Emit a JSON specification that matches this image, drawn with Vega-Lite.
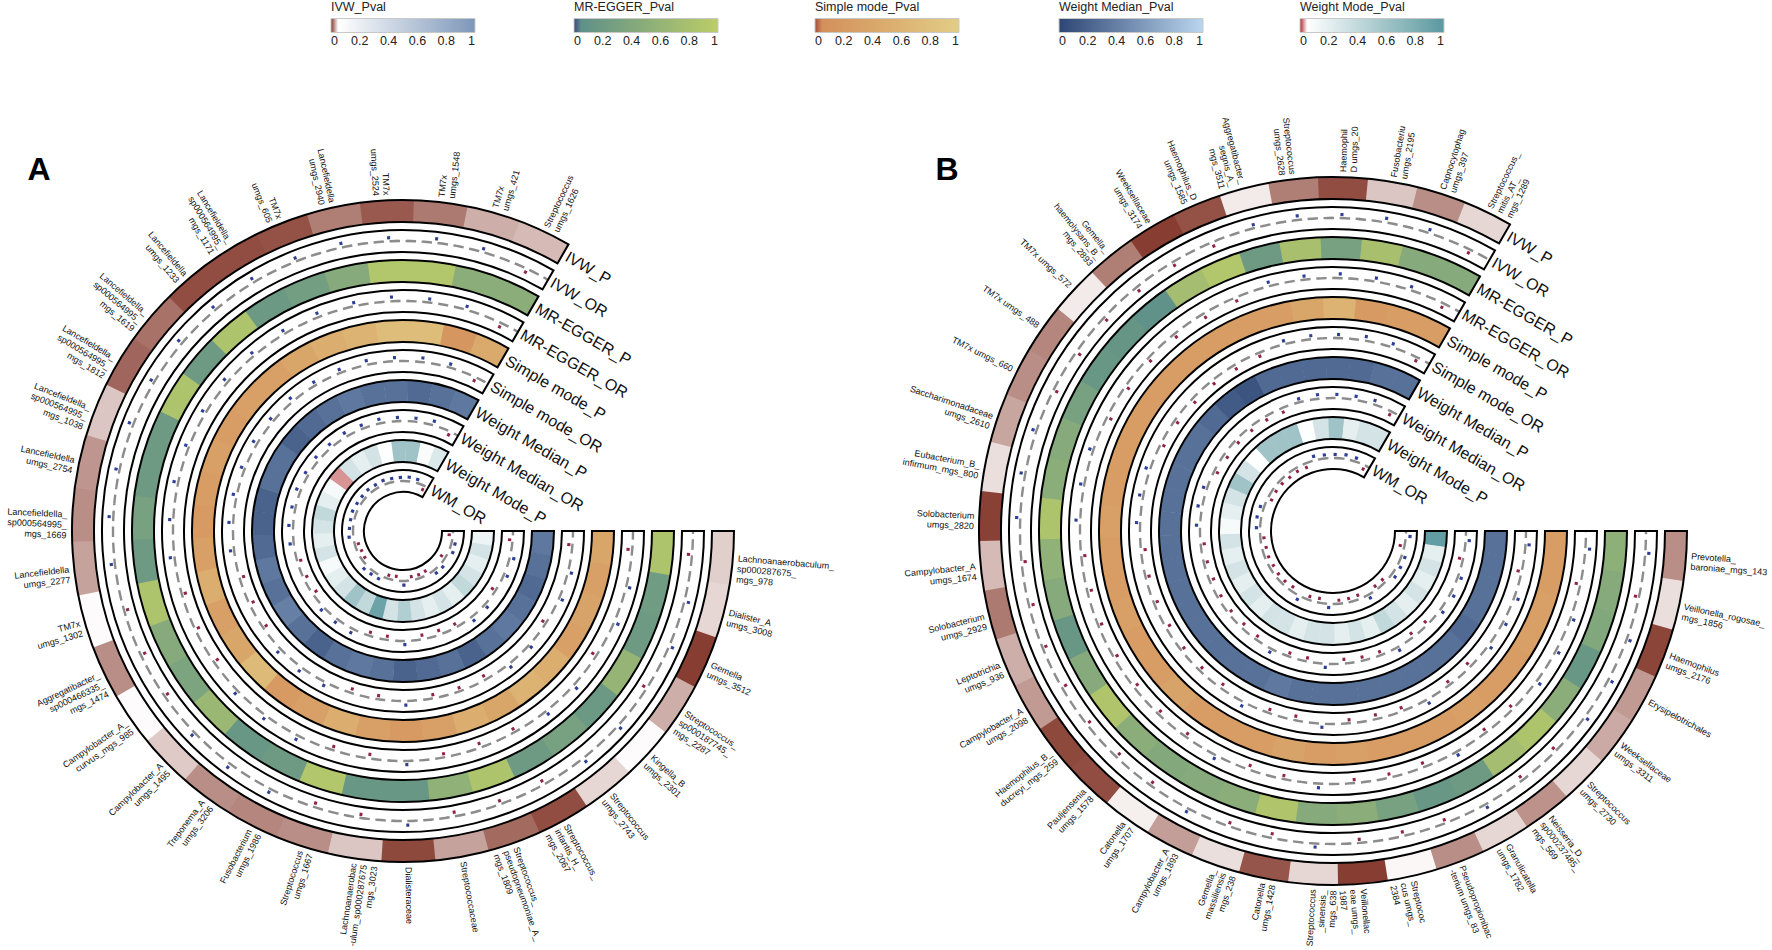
{
"$schema":"https://vega.github.io/schema/vega-lite/v6.json",
"width":1772,"height":950,"autosize":{"type":"none"},"padding":0,"background":"#ffffff",
"config":{"view":{"stroke":null},"font":"Liberation Sans",
 "legend":{"orient":"none","direction":"horizontal","gradientLength":144,"gradientThickness":14,"titleFontWeight":"normal","titleFontSize":12.5,"labelFontSize":12.5,"titleColor":"#222222","labelColor":"#222222","labelOverlap":false,"gradientStrokeColor":"#c8c8c8","gradientStrokeWidth":1,"titlePadding":5,"labelOffset":3,"titleFont":"Liberation Sans","labelFont":"Liberation Sans"}},
"datasets":{
"panels":[{"panel":"A"},{"panel":"B"}],
"tracks":[
{"panel":"A","track":"IVW_P","k":9},{"panel":"A","track":"IVW_OR","k":8},{"panel":"A","track":"MR-EGGER_P","k":7},{"panel":"A","track":"MR-EGGER_OR","k":6},{"panel":"A","track":"Simple mode_P","k":5},{"panel":"A","track":"Simple mode_OR","k":4},{"panel":"A","track":"Weight Median_P","k":3},{"panel":"A","track":"Weight Median_OR","k":2},{"panel":"A","track":"Weight Mode_P","k":1},{"panel":"A","track":"WM_OR","k":0},
{"panel":"B","track":"IVW_P","k":9},{"panel":"B","track":"IVW_OR","k":8},{"panel":"B","track":"MR-EGGER_P","k":7},{"panel":"B","track":"MR-EGGER_OR","k":6},{"panel":"B","track":"Simple mode_P","k":5},{"panel":"B","track":"Simple mode_OR","k":4},{"panel":"B","track":"Weight Median_P","k":3},{"panel":"B","track":"Weight Median_OR","k":2},{"panel":"B","track":"Weight Mode_P","k":1},{"panel":"B","track":"WM_OR","k":0}],
"A":[
{"panel":"A","i":0,"t":"Lachnoanaerobaculum_\nsp000287675_\nmgs_978","ivw_p":0.038,"egger_p":0.85,"simple_p":0.4,"wmed_p":0.35,"wmode_p":0.15,"ivw_or":0.94,"egger_or":0.93,"simple_or":0.94,"wmed_or":0.95,"wmode_or":0.94},
{"panel":"A","i":1,"t":"Dialister_A\numgs_3008","ivw_p":0.04,"egger_p":0.22,"simple_p":0.3,"wmed_p":0.3,"wmode_p":0.3,"ivw_or":1.07,"egger_or":1.06,"simple_or":1.06,"wmed_or":1.07,"wmode_or":1.06},
{"panel":"A","i":2,"t":"Gemella\numgs_3512","ivw_p":0.002,"egger_p":0.2,"simple_p":0.35,"wmed_p":0.25,"wmode_p":0.2,"ivw_or":1.06,"egger_or":1.07,"simple_or":1.06,"wmed_or":1.06,"wmode_or":1.07},
{"panel":"A","i":3,"t":"Streptococcus_\nsp000187745_\nmgs_2287","ivw_p":0.03,"egger_p":0.6,"simple_p":0.3,"wmed_p":0.3,"wmode_p":0.3,"ivw_or":0.94,"egger_or":0.93,"simple_or":0.94,"wmed_or":0.94,"wmode_or":0.93},
{"panel":"A","i":4,"t":"Kingella_B\numgs_2301","ivw_p":0.049,"egger_p":0.18,"simple_p":0.5,"wmed_p":0.35,"wmode_p":0.4,"ivw_or":1.06,"egger_or":1.07,"simple_or":1.05,"wmed_or":1.06,"wmode_or":1.06},
{"panel":"A","i":5,"t":"Streptococcus\numgs_2743","ivw_p":0.04,"egger_p":0.3,"simple_p":0.6,"wmed_p":0.3,"wmode_p":0.2,"ivw_or":1.07,"egger_or":1.06,"simple_or":1.06,"wmed_or":1.07,"wmode_or":1.06},
{"panel":"A","i":6,"t":"Streptococcus_\ninfantis_H_\nmgs_2067","ivw_p":0.006,"egger_p":0.2,"simple_p":0.4,"wmed_p":0.2,"wmode_p":0.3,"ivw_or":0.93,"egger_or":0.94,"simple_or":0.93,"wmed_or":0.94,"wmode_or":0.93},
{"panel":"A","i":7,"t":"Streptococcus_\npseudopneumoniae_A_\nmgs_1809","ivw_p":0.013,"egger_p":0.85,"simple_p":0.5,"wmed_p":0.3,"wmode_p":0.2,"ivw_or":0.94,"egger_or":0.93,"simple_or":0.94,"wmed_or":0.93,"wmode_or":0.94},
{"panel":"A","i":8,"t":"Streptococcaceae","ivw_p":0.027,"egger_p":0.55,"simple_p":0.3,"wmed_p":0.25,"wmode_p":0.3,"ivw_or":0.93,"egger_or":0.94,"simple_or":0.94,"wmed_or":0.93,"wmode_or":0.94},
{"panel":"A","i":9,"t":"Dialisteraceae","ivw_p":0.005,"egger_p":0.15,"simple_p":0.2,"wmed_p":0.2,"wmode_p":0.5,"ivw_or":1.07,"egger_or":1.06,"simple_or":1.07,"wmed_or":1.06,"wmode_or":1.07},
{"panel":"A","i":10,"t":"Lachnoanaerobac\n-ulum_sp000287675\nmgs_3023","ivw_p":0.036,"egger_p":0.15,"simple_p":0.3,"wmed_p":0.3,"wmode_p":0.3,"ivw_or":0.94,"egger_or":0.93,"simple_or":0.94,"wmed_or":0.94,"wmode_or":0.93},
{"panel":"A","i":11,"t":"Streptococcus\numgs_1667","ivw_p":0.022,"egger_p":0.9,"simple_p":0.5,"wmed_p":0.35,"wmode_p":0.9,"ivw_or":0.93,"egger_or":0.94,"simple_or":0.93,"wmed_or":0.94,"wmode_or":0.94},
{"panel":"A","i":12,"t":"Fusobacterium\numgs_1986","ivw_p":0.02,"egger_p":0.2,"simple_p":0.3,"wmed_p":0.3,"wmode_p":0.4,"ivw_or":1.06,"egger_or":1.07,"simple_or":1.06,"wmed_or":1.07,"wmode_or":1.06},
{"panel":"A","i":13,"t":"Treponema_A\numgs_3206","ivw_p":0.022,"egger_p":0.15,"simple_p":0.2,"wmed_p":0.2,"wmode_p":0.6,"ivw_or":1.07,"egger_or":1.06,"simple_or":1.07,"wmed_or":1.06,"wmode_or":1.06},
{"panel":"A","i":14,"t":"Campylobacter_A\numgs_1495","ivw_p":0.037,"egger_p":0.65,"simple_p":0.7,"wmed_p":0.3,"wmode_p":0.3,"ivw_or":1.06,"egger_or":1.06,"simple_or":1.07,"wmed_or":1.06,"wmode_or":1.07},
{"panel":"A","i":15,"t":"Campylobacter_A_\ncurvus_mgs_985","ivw_p":0.049,"egger_p":0.35,"simple_p":0.4,"wmed_p":0.4,"wmode_p":0.2,"ivw_or":0.94,"egger_or":0.93,"simple_or":0.94,"wmed_or":0.93,"wmode_or":0.94},
{"panel":"A","i":16,"t":"Aggregatibacter_\nsp000466335_\nmgs_1474","ivw_p":0.022,"egger_p":0.45,"simple_p":0.3,"wmed_p":0.3,"wmode_p":0.1,"ivw_or":0.93,"egger_or":0.94,"simple_or":0.93,"wmed_or":0.94,"wmode_or":0.93},
{"panel":"A","i":17,"t":"TM7x\numgs_1302","ivw_p":0.049,"egger_p":0.85,"simple_p":0.5,"wmed_p":0.35,"wmode_p":0.3,"ivw_or":0.94,"egger_or":0.94,"simple_or":0.93,"wmed_or":0.94,"wmode_or":0.94},
{"panel":"A","i":18,"t":"Lancefieldella\numgs_2277","ivw_p":0.027,"egger_p":0.2,"simple_p":0.3,"wmed_p":0.25,"wmode_p":0.2,"ivw_or":1.06,"egger_or":1.07,"simple_or":1.06,"wmed_or":1.06,"wmode_or":1.07},
{"panel":"A","i":19,"t":"Lancefieldella_\nsp000564995_\nmgs_1669","ivw_p":0.022,"egger_p":0.3,"simple_p":0.2,"wmed_p":0.2,"wmode_p":0.3,"ivw_or":1.07,"egger_or":1.06,"simple_or":1.07,"wmed_or":1.07,"wmode_or":1.06},
{"panel":"A","i":20,"t":"Lancefieldella\numgs_2754","ivw_p":0.024,"egger_p":0.2,"simple_p":0.25,"wmed_p":0.2,"wmode_p":0.4,"ivw_or":1.06,"egger_or":1.07,"simple_or":1.06,"wmed_or":1.06,"wmode_or":1.06},
{"panel":"A","i":21,"t":"Lancefieldella_\nsp000564995_\nmgs_1038","ivw_p":0.036,"egger_p":0.2,"simple_p":0.3,"wmed_p":0.3,"wmode_p":0.2,"ivw_or":1.07,"egger_or":1.06,"simple_or":1.06,"wmed_or":1.07,"wmode_or":1.07},
{"panel":"A","i":22,"t":"Lancefieldella_\nsp000564995_\nmgs_1812","ivw_p":0.012,"egger_p":0.85,"simple_p":0.25,"wmed_p":0.3,"wmode_p":0.1,"ivw_or":1.06,"egger_or":1.06,"simple_or":1.07,"wmed_or":1.06,"wmode_or":1.06},
{"panel":"A","i":23,"t":"Lancefieldella_\nsp000564995_\nmgs_1619","ivw_p":0.015,"egger_p":0.2,"simple_p":0.3,"wmed_p":0.2,"wmode_p":0.025,"ivw_or":1.07,"egger_or":1.07,"simple_or":1.06,"wmed_or":1.07,"wmode_or":1.06},
{"panel":"A","i":24,"t":"Lancefieldella\numgs_1233","ivw_p":0.006,"egger_p":0.85,"simple_p":0.3,"wmed_p":0.25,"wmode_p":0.3,"ivw_or":1.06,"egger_or":1.06,"simple_or":1.07,"wmed_or":1.06,"wmode_or":1.07},
{"panel":"A","i":25,"t":"Lancefieldella_\nsp000564995_\nmgs_1171","ivw_p":0.006,"egger_p":0.18,"simple_p":0.4,"wmed_p":0.3,"wmode_p":0.2,"ivw_or":1.07,"egger_or":1.06,"simple_or":1.06,"wmed_or":1.07,"wmode_or":1.06},
{"panel":"A","i":26,"t":"TM7x\numgs_605","ivw_p":0.007,"egger_p":0.25,"simple_p":0.5,"wmed_p":0.35,"wmode_p":0.3,"ivw_or":1.06,"egger_or":1.07,"simple_or":1.06,"wmed_or":1.06,"wmode_or":1.07},
{"panel":"A","i":27,"t":"Lancefieldella\numgs_2940","ivw_p":0.018,"egger_p":0.45,"simple_p":0.6,"wmed_p":0.3,"wmode_p":0.06,"ivw_or":1.07,"egger_or":1.06,"simple_or":1.07,"wmed_or":1.07,"wmode_or":1.06},
{"panel":"A","i":28,"t":"TM7x\numgs_2524","ivw_p":0.009,"egger_p":0.9,"simple_p":0.75,"wmed_p":0.3,"wmode_p":0.6,"ivw_or":1.06,"egger_or":1.07,"simple_or":1.06,"wmed_or":1.06,"wmode_or":1.06},
{"panel":"A","i":29,"t":"TM7x\numgs_1548","ivw_p":0.017,"egger_p":0.9,"simple_p":0.75,"wmed_p":0.25,"wmode_p":0.6,"ivw_or":1.07,"egger_or":1.06,"simple_or":1.07,"wmed_or":1.06,"wmode_or":1.07},
{"panel":"A","i":30,"t":"TM7x\numgs_421","ivw_p":0.03,"egger_p":0.5,"simple_p":0.15,"wmed_p":0.3,"wmode_p":0.08,"ivw_or":1.06,"egger_or":1.06,"simple_or":1.06,"wmed_or":1.07,"wmode_or":1.06},
{"panel":"A","i":31,"t":"Streptococcus\numgs_1626","ivw_p":0.033,"egger_p":0.5,"simple_p":0.45,"wmed_p":0.35,"wmode_p":0.25,"ivw_or":0.94,"egger_or":0.93,"simple_or":0.94,"wmed_or":0.94,"wmode_or":0.93}],
"B":[
{"panel":"B","i":0,"t":"Prevotella_\nbaroniae_mgs_143","ivw_p":0.022,"egger_p":0.52,"simple_p":0.25,"wmed_p":0.3,"wmode_p":0.95,"ivw_or":1.06,"egger_or":1.07,"simple_or":1.06,"wmed_or":1.06,"wmode_or":1.07},
{"panel":"B","i":1,"t":"Veillonella_rogosae_\nmgs_1856","ivw_p":0.042,"egger_p":0.45,"simple_p":0.25,"wmed_p":0.3,"wmode_p":0.2,"ivw_or":0.94,"egger_or":0.93,"simple_or":0.94,"wmed_or":0.94,"wmode_or":0.93},
{"panel":"B","i":2,"t":"Haemophilus\numgs_2176","ivw_p":0.004,"egger_p":0.4,"simple_p":0.3,"wmed_p":0.3,"wmode_p":0.3,"ivw_or":1.06,"egger_or":1.06,"simple_or":1.07,"wmed_or":1.06,"wmode_or":1.06},
{"panel":"B","i":3,"t":"Erysipelotrichales","ivw_p":0.025,"egger_p":0.15,"simple_p":0.3,"wmed_p":0.3,"wmode_p":0.2,"ivw_or":1.07,"egger_or":1.06,"simple_or":1.06,"wmed_or":1.07,"wmode_or":1.06},
{"panel":"B","i":4,"t":"Weeksellaceae\numgs_3311","ivw_p":0.029,"egger_p":0.5,"simple_p":0.25,"wmed_p":0.25,"wmode_p":0.3,"ivw_or":1.06,"egger_or":1.07,"simple_or":1.06,"wmed_or":1.06,"wmode_or":1.07},
{"panel":"B","i":5,"t":"Streptococcus\numgs_2730","ivw_p":0.04,"egger_p":0.85,"simple_p":0.25,"wmed_p":0.3,"wmode_p":0.2,"ivw_or":0.94,"egger_or":0.94,"simple_or":0.93,"wmed_or":0.94,"wmode_or":0.94},
{"panel":"B","i":6,"t":"Neisseria_D_\nsp000237485_\nmgs_569","ivw_p":0.023,"egger_p":0.75,"simple_p":0.3,"wmed_p":0.3,"wmode_p":0.3,"ivw_or":0.93,"egger_or":0.94,"simple_or":0.94,"wmed_or":0.93,"wmode_or":0.94},
{"panel":"B","i":7,"t":"Granulicatella\numgs_1782","ivw_p":0.04,"egger_p":0.2,"simple_p":0.25,"wmed_p":0.3,"wmode_p":0.4,"ivw_or":1.06,"egger_or":1.06,"simple_or":1.07,"wmed_or":1.06,"wmode_or":1.06},
{"panel":"B","i":8,"t":"Pseudopropionibac\n-terium umgs_83","ivw_p":0.022,"egger_p":0.15,"simple_p":0.25,"wmed_p":0.3,"wmode_p":0.2,"ivw_or":0.94,"egger_or":0.93,"simple_or":0.94,"wmed_or":0.94,"wmode_or":0.93},
{"panel":"B","i":9,"t":"Streptococ\ncus umgs_\n2384","ivw_p":0.048,"egger_p":0.3,"simple_p":0.25,"wmed_p":0.3,"wmode_p":0.3,"ivw_or":0.93,"egger_or":0.94,"simple_or":0.93,"wmed_or":0.94,"wmode_or":0.94},
{"panel":"B","i":10,"t":"Veillonellac\neae umgs_\n1987","ivw_p":0.002,"egger_p":0.5,"simple_p":0.3,"wmed_p":0.3,"wmode_p":0.2,"ivw_or":0.94,"egger_or":0.94,"simple_or":0.94,"wmed_or":0.93,"wmode_or":0.94},
{"panel":"B","i":11,"t":"Streptococcus\n_sinensis_\nmgs_638","ivw_p":0.04,"egger_p":0.45,"simple_p":0.25,"wmed_p":0.3,"wmode_p":0.3,"ivw_or":1.06,"egger_or":1.07,"simple_or":1.06,"wmed_or":1.06,"wmode_or":1.06},
{"panel":"B","i":12,"t":"Catonella\numgs_1428","ivw_p":0.008,"egger_p":0.88,"simple_p":0.35,"wmed_p":0.3,"wmode_p":0.3,"ivw_or":0.93,"egger_or":0.94,"simple_or":0.93,"wmed_or":0.94,"wmode_or":0.93},
{"panel":"B","i":13,"t":"Gemella_\nmassiliensis\nmgs_238","ivw_p":0.042,"egger_p":0.5,"simple_p":0.25,"wmed_p":0.35,"wmode_p":0.2,"ivw_or":0.94,"egger_or":0.93,"simple_or":0.94,"wmed_or":0.94,"wmode_or":0.94},
{"panel":"B","i":14,"t":"Campylobacter_A\numgs_1893","ivw_p":0.026,"egger_p":0.45,"simple_p":0.25,"wmed_p":0.3,"wmode_p":0.3,"ivw_or":1.06,"egger_or":1.06,"simple_or":1.07,"wmed_or":1.06,"wmode_or":1.07},
{"panel":"B","i":15,"t":"Catonella\numgs_1707","ivw_p":0.046,"egger_p":0.42,"simple_p":0.25,"wmed_p":0.3,"wmode_p":0.3,"ivw_or":0.94,"egger_or":0.94,"simple_or":0.93,"wmed_or":0.94,"wmode_or":0.93},
{"panel":"B","i":16,"t":"Pauljensenia\numgs_1578","ivw_p":0.006,"egger_p":0.5,"simple_p":0.35,"wmed_p":0.3,"wmode_p":0.2,"ivw_or":0.93,"egger_or":0.94,"simple_or":0.94,"wmed_or":0.93,"wmode_or":0.94},
{"panel":"B","i":17,"t":"Haemophilus_B_\nducreyi_mgs_259","ivw_p":0.005,"egger_p":0.88,"simple_p":0.25,"wmed_p":0.3,"wmode_p":0.3,"ivw_or":0.94,"egger_or":0.93,"simple_or":0.94,"wmed_or":0.94,"wmode_or":0.94},
{"panel":"B","i":18,"t":"Campylobacter_A\numgs_2098","ivw_p":0.025,"egger_p":0.45,"simple_p":0.25,"wmed_p":0.3,"wmode_p":0.2,"ivw_or":0.93,"egger_or":0.94,"simple_or":0.93,"wmed_or":0.94,"wmode_or":0.93},
{"panel":"B","i":19,"t":"Leptotrichia\numgs_936","ivw_p":0.03,"egger_p":0.15,"simple_p":0.3,"wmed_p":0.3,"wmode_p":0.3,"ivw_or":0.94,"egger_or":0.94,"simple_or":0.94,"wmed_or":0.93,"wmode_or":0.94},
{"panel":"B","i":20,"t":"Solobacterium\numgs_2929","ivw_p":0.017,"egger_p":0.45,"simple_p":0.25,"wmed_p":0.3,"wmode_p":0.2,"ivw_or":0.93,"egger_or":0.93,"simple_or":0.94,"wmed_or":0.94,"wmode_or":0.93},
{"panel":"B","i":21,"t":"Campylobacter_A\numgs_1674","ivw_p":0.033,"egger_p":0.55,"simple_p":0.25,"wmed_p":0.3,"wmode_p":0.3,"ivw_or":0.94,"egger_or":0.94,"simple_or":0.93,"wmed_or":0.94,"wmode_or":0.94},
{"panel":"B","i":22,"t":"Solobacterium\numgs_2820","ivw_p":0.003,"egger_p":0.85,"simple_p":0.3,"wmed_p":0.3,"wmode_p":0.1,"ivw_or":1.06,"egger_or":1.07,"simple_or":1.06,"wmed_or":1.06,"wmode_or":1.06},
{"panel":"B","i":23,"t":"Eubacterium_B_\ninfirmum_mgs_800","ivw_p":0.042,"egger_p":0.5,"simple_p":0.25,"wmed_p":0.3,"wmode_p":0.2,"ivw_or":1.07,"egger_or":1.06,"simple_or":1.06,"wmed_or":1.07,"wmode_or":1.07},
{"panel":"B","i":24,"t":"Saccharimonadaceae\numgs_2610","ivw_p":0.028,"egger_p":0.45,"simple_p":0.25,"wmed_p":0.3,"wmode_p":0.3,"ivw_or":1.06,"egger_or":1.06,"simple_or":1.07,"wmed_or":1.06,"wmode_or":1.06},
{"panel":"B","i":25,"t":"TM7x umgs_660","ivw_p":0.022,"egger_p":0.3,"simple_p":0.25,"wmed_p":0.3,"wmode_p":0.6,"ivw_or":0.94,"egger_or":0.93,"simple_or":0.94,"wmed_or":0.94,"wmode_or":0.93},
{"panel":"B","i":26,"t":"TM7x umgs_488","ivw_p":0.02,"egger_p":0.15,"simple_p":0.25,"wmed_p":0.3,"wmode_p":0.3,"ivw_or":0.93,"egger_or":0.94,"simple_or":0.94,"wmed_or":0.93,"wmode_or":0.94},
{"panel":"B","i":27,"t":"TM7x umgs_572","ivw_p":0.045,"egger_p":0.12,"simple_p":0.25,"wmed_p":0.25,"wmode_p":0.06,"ivw_or":0.94,"egger_or":0.94,"simple_or":0.93,"wmed_or":0.94,"wmode_or":0.94},
{"panel":"B","i":28,"t":"Gemella_\nhaemolysans_B_\nmgs_2893","ivw_p":0.018,"egger_p":0.06,"simple_p":0.25,"wmed_p":0.15,"wmode_p":0.6,"ivw_or":0.93,"egger_or":0.94,"simple_or":0.94,"wmed_or":0.94,"wmode_or":0.93},
{"panel":"B","i":29,"t":"Weeksellaceae\numgs_3174","ivw_p":0.002,"egger_p":0.75,"simple_p":0.25,"wmed_p":0.1,"wmode_p":0.6,"ivw_or":0.94,"egger_or":0.93,"simple_or":0.93,"wmed_or":0.94,"wmode_or":0.94},
{"panel":"B","i":30,"t":"Haemophilus_D\numgs_1585","ivw_p":0.007,"egger_p":0.9,"simple_p":0.25,"wmed_p":0.25,"wmode_p":0.6,"ivw_or":0.93,"egger_or":0.94,"simple_or":0.94,"wmed_or":0.93,"wmode_or":0.93},
{"panel":"B","i":31,"t":"Aggregatibacter_\nsegnis_A_\nmgs_3511","ivw_p":0.045,"egger_p":0.2,"simple_p":0.25,"wmed_p":0.25,"wmode_p":0.06,"ivw_or":1.06,"egger_or":1.07,"simple_or":1.06,"wmed_or":1.06,"wmode_or":1.07},
{"panel":"B","i":32,"t":"Streptococcus\numgs_2628","ivw_p":0.018,"egger_p":0.8,"simple_p":0.4,"wmed_p":0.25,"wmode_p":0.3,"ivw_or":1.07,"egger_or":1.06,"simple_or":1.06,"wmed_or":1.07,"wmode_or":1.06},
{"panel":"B","i":33,"t":"Haemophil\nD umgs_20","ivw_p":0.006,"egger_p":0.3,"simple_p":0.6,"wmed_p":0.25,"wmode_p":0.6,"ivw_or":1.06,"egger_or":1.07,"simple_or":1.06,"wmed_or":1.06,"wmode_or":1.06},
{"panel":"B","i":34,"t":"Fusobacteriu\numgs_2195","ivw_p":0.036,"egger_p":0.8,"simple_p":0.2,"wmed_p":0.25,"wmode_p":0.2,"ivw_or":1.07,"egger_or":1.06,"simple_or":1.07,"wmed_or":1.06,"wmode_or":1.07},
{"panel":"B","i":35,"t":"Capnocytophag\numgs_397","ivw_p":0.022,"egger_p":0.45,"simple_p":0.25,"wmed_p":0.3,"wmode_p":0.3,"ivw_or":1.06,"egger_or":1.06,"simple_or":1.06,"wmed_or":1.07,"wmode_or":1.06},
{"panel":"B","i":36,"t":"Streptococcus_\nmitis_AT_\nmgs_1289","ivw_p":0.04,"egger_p":0.45,"simple_p":0.25,"wmed_p":0.3,"wmode_p":0.3,"ivw_or":0.94,"egger_or":0.93,"simple_or":0.94,"wmed_or":0.94,"wmode_or":0.93}]
},
"encoding":{
 "x":{"field":"panel","type":"nominal","scale":{"type":"point","domain":["A","B"],"range":[403,1333],"padding":0},"axis":null},
 "y":{"field":"panel","type":"nominal","scale":{"type":"point","domain":["A","B"],"range":[531,531],"padding":0},"axis":null}
},
"layer":[
{"data":{"name":"A"},"mark":{"type":"arc","theta2Offset":0.1666},"encoding":{"theta":{"field":"i","type":"quantitative","stack":null,"scale":{"type":"linear","domain":[0,32],"range":[1.570796,6.806784],"zero":false,"nice":false}},"theta2":{"field":"i"},"radius":{"datum":9,"type":"quantitative","scale":{"type":"linear","domain":[0,10],"range":[39,339],"zero":false,"nice":false}},"radius2":{"datum":9.7333},
 "color":{"field":"ivw_p","type":"quantitative","scale":{"domain":[0,0.05,1],"range":["#823528","#ffffff","#7d97b9"],"interpolate":"rgb"},"legend":{"title":"IVW_Pval","legendX":331,"legendY":1,"values":[0,0.2,0.4,0.6,0.8,1],"format":"~g"}}}},
{"data":{"name":"A"},"mark":{"type":"arc","theta2Offset":0.1666},"encoding":{"theta":{"field":"i","type":"quantitative","stack":null,"scale":{"type":"linear","domain":[0,32],"range":[1.570796,6.806784],"zero":false,"nice":false}},"theta2":{"field":"i"},"radius":{"datum":7,"type":"quantitative","scale":{"type":"linear","domain":[0,10],"range":[39,339],"zero":false,"nice":false}},"radius2":{"datum":7.7333},
 "color":{"field":"egger_p","type":"quantitative","scale":{"domain":[0,0.05,1],"range":["#3b4a7e","#5f9189","#bccd67"],"interpolate":"rgb"},"legend":{"title":"MR-EGGER_Pval","legendX":574,"legendY":1,"values":[0,0.2,0.4,0.6,0.8,1],"format":"~g"}}}},
{"data":{"name":"A"},"mark":{"type":"arc","theta2Offset":0.1666},"encoding":{"theta":{"field":"i","type":"quantitative","stack":null,"scale":{"type":"linear","domain":[0,32],"range":[1.570796,6.806784],"zero":false,"nice":false}},"theta2":{"field":"i"},"radius":{"datum":5,"type":"quantitative","scale":{"type":"linear","domain":[0,10],"range":[39,339],"zero":false,"nice":false}},"radius2":{"datum":5.7333},
 "color":{"field":"simple_p","type":"quantitative","scale":{"domain":[0,0.05,1],"range":["#a34f3c","#d4905b","#e2cd85"],"interpolate":"rgb"},"legend":{"title":"Simple mode_Pval","legendX":815,"legendY":1,"values":[0,0.2,0.4,0.6,0.8,1],"format":"~g"}}}},
{"data":{"name":"A"},"mark":{"type":"arc","theta2Offset":0.1666},"encoding":{"theta":{"field":"i","type":"quantitative","stack":null,"scale":{"type":"linear","domain":[0,32],"range":[1.570796,6.806784],"zero":false,"nice":false}},"theta2":{"field":"i"},"radius":{"datum":3,"type":"quantitative","scale":{"type":"linear","domain":[0,10],"range":[39,339],"zero":false,"nice":false}},"radius2":{"datum":3.7333},
 "color":{"field":"wmed_p","type":"quantitative","scale":{"domain":[0,1],"range":["#2d4674","#bad5ee"],"interpolate":"rgb"},"legend":{"title":"Weight Median_Pval","legendX":1059,"legendY":1,"values":[0,0.2,0.4,0.6,0.8,1],"format":"~g"}}}},
{"data":{"name":"A"},"mark":{"type":"arc","theta2Offset":0.1666},"encoding":{"theta":{"field":"i","type":"quantitative","stack":null,"scale":{"type":"linear","domain":[0,32],"range":[1.570796,6.806784],"zero":false,"nice":false}},"theta2":{"field":"i"},"radius":{"datum":1,"type":"quantitative","scale":{"type":"linear","domain":[0,10],"range":[39,339],"zero":false,"nice":false}},"radius2":{"datum":1.7333},
 "color":{"field":"wmode_p","type":"quantitative","scale":{"domain":[0,0.05,1],"range":["#b0282a","#ffffff","#5a989f"],"interpolate":"rgb"},"legend":{"title":"Weight Mode_Pval","legendX":1300,"legendY":1,"values":[0,0.2,0.4,0.6,0.8,1],"format":"~g"}}}},

{"data":{"name":"B"},"mark":{"type":"arc","theta2Offset":0.1445},"encoding":{"theta":{"field":"i","type":"quantitative","stack":null,"scale":{"type":"linear","domain":[0,37],"range":[1.570796,6.806784],"zero":false,"nice":false}},"theta2":{"field":"i"},"radius":{"datum":9,"type":"quantitative","scale":{"type":"linear","domain":[0,10],"range":[62,362],"zero":false,"nice":false}},"radius2":{"datum":9.7333},
 "color":{"field":"ivw_p","type":"quantitative","scale":{"domain":[0,0.05,1],"range":["#823528","#ffffff","#7d97b9"],"interpolate":"rgb"},"legend":null}}},
{"data":{"name":"B"},"mark":{"type":"arc","theta2Offset":0.1445},"encoding":{"theta":{"field":"i","type":"quantitative","stack":null,"scale":{"type":"linear","domain":[0,37],"range":[1.570796,6.806784],"zero":false,"nice":false}},"theta2":{"field":"i"},"radius":{"datum":7,"type":"quantitative","scale":{"type":"linear","domain":[0,10],"range":[62,362],"zero":false,"nice":false}},"radius2":{"datum":7.7333},
 "color":{"field":"egger_p","type":"quantitative","scale":{"domain":[0,0.05,1],"range":["#3b4a7e","#5f9189","#bccd67"],"interpolate":"rgb"},"legend":null}}},
{"data":{"name":"B"},"mark":{"type":"arc","theta2Offset":0.1445},"encoding":{"theta":{"field":"i","type":"quantitative","stack":null,"scale":{"type":"linear","domain":[0,37],"range":[1.570796,6.806784],"zero":false,"nice":false}},"theta2":{"field":"i"},"radius":{"datum":5,"type":"quantitative","scale":{"type":"linear","domain":[0,10],"range":[62,362],"zero":false,"nice":false}},"radius2":{"datum":5.7333},
 "color":{"field":"simple_p","type":"quantitative","scale":{"domain":[0,0.05,1],"range":["#a34f3c","#d4905b","#e2cd85"],"interpolate":"rgb"},"legend":null}}},
{"data":{"name":"B"},"mark":{"type":"arc","theta2Offset":0.1445},"encoding":{"theta":{"field":"i","type":"quantitative","stack":null,"scale":{"type":"linear","domain":[0,37],"range":[1.570796,6.806784],"zero":false,"nice":false}},"theta2":{"field":"i"},"radius":{"datum":3,"type":"quantitative","scale":{"type":"linear","domain":[0,10],"range":[62,362],"zero":false,"nice":false}},"radius2":{"datum":3.7333},
 "color":{"field":"wmed_p","type":"quantitative","scale":{"domain":[0,1],"range":["#2d4674","#bad5ee"],"interpolate":"rgb"},"legend":null}}},
{"data":{"name":"B"},"mark":{"type":"arc","theta2Offset":0.1445},"encoding":{"theta":{"field":"i","type":"quantitative","stack":null,"scale":{"type":"linear","domain":[0,37],"range":[1.570796,6.806784],"zero":false,"nice":false}},"theta2":{"field":"i"},"radius":{"datum":1,"type":"quantitative","scale":{"type":"linear","domain":[0,10],"range":[62,362],"zero":false,"nice":false}},"radius2":{"datum":1.7333},
 "color":{"field":"wmode_p","type":"quantitative","scale":{"domain":[0,0.05,1],"range":["#b0282a","#ffffff","#5a989f"],"interpolate":"rgb"},"legend":null}}},

{"data":{"name":"panels"},"transform":[{"filter":"datum.panel==='A'"}],"mark":{"type":"arc","filled":false,"stroke":"#8c8c8c","strokeWidth":2.4,"strokeDash":[9,7],"strokeDashOffset":6.06},"encoding":{"theta":{"datum":0,"type":"quantitative","scale":{"type":"linear","domain":[0,32],"range":[1.570796,6.806784],"zero":false,"nice":false}},"theta2":{"datum":32},"radius":{"datum":8.36667,"type":"quantitative","scale":{"type":"linear","domain":[0,10],"range":[39,339],"zero":false,"nice":false}},"radius2":{"datum":8.36667}}},
{"data":{"name":"panels"},"transform":[{"filter":"datum.panel==='A'"}],"mark":{"type":"arc","filled":false,"stroke":"#8c8c8c","strokeWidth":2.4,"strokeDash":[9,7],"strokeDashOffset":0.22},"encoding":{"theta":{"datum":0,"type":"quantitative","scale":{"type":"linear","domain":[0,32],"range":[1.570796,6.806784],"zero":false,"nice":false}},"theta2":{"datum":32},"radius":{"datum":6.36667,"type":"quantitative","scale":{"type":"linear","domain":[0,10],"range":[39,339],"zero":false,"nice":false}},"radius2":{"datum":6.36667}}},
{"data":{"name":"panels"},"transform":[{"filter":"datum.panel==='A'"}],"mark":{"type":"arc","filled":false,"stroke":"#8c8c8c","strokeWidth":2.4,"strokeDash":[9,7],"strokeDashOffset":2.38},"encoding":{"theta":{"datum":0,"type":"quantitative","scale":{"type":"linear","domain":[0,32],"range":[1.570796,6.806784],"zero":false,"nice":false}},"theta2":{"datum":32},"radius":{"datum":4.36667,"type":"quantitative","scale":{"type":"linear","domain":[0,10],"range":[39,339],"zero":false,"nice":false}},"radius2":{"datum":4.36667}}},
{"data":{"name":"panels"},"transform":[{"filter":"datum.panel==='A'"}],"mark":{"type":"arc","filled":false,"stroke":"#8c8c8c","strokeWidth":2.4,"strokeDash":[9,7],"strokeDashOffset":4.54},"encoding":{"theta":{"datum":0,"type":"quantitative","scale":{"type":"linear","domain":[0,32],"range":[1.570796,6.806784],"zero":false,"nice":false}},"theta2":{"datum":32},"radius":{"datum":2.36667,"type":"quantitative","scale":{"type":"linear","domain":[0,10],"range":[39,339],"zero":false,"nice":false}},"radius2":{"datum":2.36667}}},
{"data":{"name":"panels"},"transform":[{"filter":"datum.panel==='A'"}],"mark":{"type":"arc","filled":false,"stroke":"#8c8c8c","strokeWidth":2.4,"strokeDash":[9,7],"strokeDashOffset":6.70},"encoding":{"theta":{"datum":0,"type":"quantitative","scale":{"type":"linear","domain":[0,32],"range":[1.570796,6.806784],"zero":false,"nice":false}},"theta2":{"datum":32},"radius":{"datum":0.36667,"type":"quantitative","scale":{"type":"linear","domain":[0,10],"range":[39,339],"zero":false,"nice":false}},"radius2":{"datum":0.36667}}},

{"data":{"name":"panels"},"transform":[{"filter":"datum.panel==='B'"}],"mark":{"type":"arc","filled":false,"stroke":"#8c8c8c","strokeWidth":2.4,"strokeDash":[9,7],"strokeDashOffset":5.64},"encoding":{"theta":{"datum":0,"type":"quantitative","scale":{"type":"linear","domain":[0,37],"range":[1.570796,6.806784],"zero":false,"nice":false}},"theta2":{"datum":37},"radius":{"datum":8.36667,"type":"quantitative","scale":{"type":"linear","domain":[0,10],"range":[62,362],"zero":false,"nice":false}},"radius2":{"datum":8.36667}}},
{"data":{"name":"panels"},"transform":[{"filter":"datum.panel==='B'"}],"mark":{"type":"arc","filled":false,"stroke":"#8c8c8c","strokeWidth":2.4,"strokeDash":[9,7],"strokeDashOffset":7.80},"encoding":{"theta":{"datum":0,"type":"quantitative","scale":{"type":"linear","domain":[0,37],"range":[1.570796,6.806784],"zero":false,"nice":false}},"theta2":{"datum":37},"radius":{"datum":6.36667,"type":"quantitative","scale":{"type":"linear","domain":[0,10],"range":[62,362],"zero":false,"nice":false}},"radius2":{"datum":6.36667}}},
{"data":{"name":"panels"},"transform":[{"filter":"datum.panel==='B'"}],"mark":{"type":"arc","filled":false,"stroke":"#8c8c8c","strokeWidth":2.4,"strokeDash":[9,7],"strokeDashOffset":1.94},"encoding":{"theta":{"datum":0,"type":"quantitative","scale":{"type":"linear","domain":[0,37],"range":[1.570796,6.806784],"zero":false,"nice":false}},"theta2":{"datum":37},"radius":{"datum":4.36667,"type":"quantitative","scale":{"type":"linear","domain":[0,10],"range":[62,362],"zero":false,"nice":false}},"radius2":{"datum":4.36667}}},
{"data":{"name":"panels"},"transform":[{"filter":"datum.panel==='B'"}],"mark":{"type":"arc","filled":false,"stroke":"#8c8c8c","strokeWidth":2.4,"strokeDash":[9,7],"strokeDashOffset":4.11},"encoding":{"theta":{"datum":0,"type":"quantitative","scale":{"type":"linear","domain":[0,37],"range":[1.570796,6.806784],"zero":false,"nice":false}},"theta2":{"datum":37},"radius":{"datum":2.36667,"type":"quantitative","scale":{"type":"linear","domain":[0,10],"range":[62,362],"zero":false,"nice":false}},"radius2":{"datum":2.36667}}},
{"data":{"name":"panels"},"transform":[{"filter":"datum.panel==='B'"}],"mark":{"type":"arc","filled":false,"stroke":"#8c8c8c","strokeWidth":2.4,"strokeDash":[9,7],"strokeDashOffset":6.27},"encoding":{"theta":{"datum":0,"type":"quantitative","scale":{"type":"linear","domain":[0,37],"range":[1.570796,6.806784],"zero":false,"nice":false}},"theta2":{"datum":37},"radius":{"datum":0.36667,"type":"quantitative","scale":{"type":"linear","domain":[0,10],"range":[62,362],"zero":false,"nice":false}},"radius2":{"datum":0.36667}}},

{"data":{"name":"A"},"mark":{"type":"arc","thetaOffset":0.0767,"theta2Offset":0.0870,"radiusOffset":-1.6,"radius2Offset":1.6},"encoding":{"theta":{"field":"i","type":"quantitative","stack":null,"scale":{"type":"linear","domain":[0,32],"range":[1.570796,6.806784],"zero":false,"nice":false}},"theta2":{"field":"i"},"radius":{"field":"ivw_or","type":"quantitative","stack":null,"scale":{"type":"linear","domain":[0.85,1.15],"range":[281,299],"zero":false,"nice":false,"clamp":true}},"radius2":{"field":"ivw_or"},"color":{"field":"ivw_or","type":"quantitative","scale":{"type":"threshold","domain":[1],"range":["#8e2447","#2f3f94"]},"legend":null}}},
{"data":{"name":"A"},"mark":{"type":"arc","thetaOffset":0.0753,"theta2Offset":0.0883,"radiusOffset":-1.6,"radius2Offset":1.6},"encoding":{"theta":{"field":"i","type":"quantitative","stack":null,"scale":{"type":"linear","domain":[0,32],"range":[1.570796,6.806784],"zero":false,"nice":false}},"theta2":{"field":"i"},"radius":{"field":"egger_or","type":"quantitative","stack":null,"scale":{"type":"linear","domain":[0.85,1.15],"range":[221,239],"zero":false,"nice":false,"clamp":true}},"radius2":{"field":"egger_or"},"color":{"field":"egger_or","type":"quantitative","scale":{"type":"threshold","domain":[1],"range":["#8e2447","#2f3f94"]},"legend":null}}},
{"data":{"name":"A"},"mark":{"type":"arc","thetaOffset":0.0730,"theta2Offset":0.0906,"radiusOffset":-1.6,"radius2Offset":1.6},"encoding":{"theta":{"field":"i","type":"quantitative","stack":null,"scale":{"type":"linear","domain":[0,32],"range":[1.570796,6.806784],"zero":false,"nice":false}},"theta2":{"field":"i"},"radius":{"field":"simple_or","type":"quantitative","stack":null,"scale":{"type":"linear","domain":[0.85,1.15],"range":[161,179],"zero":false,"nice":false,"clamp":true}},"radius2":{"field":"simple_or"},"color":{"field":"simple_or","type":"quantitative","scale":{"type":"threshold","domain":[1],"range":["#8e2447","#2f3f94"]},"legend":null}}},
{"data":{"name":"A"},"mark":{"type":"arc","thetaOffset":0.0682,"theta2Offset":0.0955,"radiusOffset":-1.6,"radius2Offset":1.6},"encoding":{"theta":{"field":"i","type":"quantitative","stack":null,"scale":{"type":"linear","domain":[0,32],"range":[1.570796,6.806784],"zero":false,"nice":false}},"theta2":{"field":"i"},"radius":{"field":"wmed_or","type":"quantitative","stack":null,"scale":{"type":"linear","domain":[0.85,1.15],"range":[101,119],"zero":false,"nice":false,"clamp":true}},"radius2":{"field":"wmed_or"},"color":{"field":"wmed_or","type":"quantitative","scale":{"type":"threshold","domain":[1],"range":["#8e2447","#2f3f94"]},"legend":null}}},
{"data":{"name":"A"},"mark":{"type":"arc","thetaOffset":0.0518,"theta2Offset":0.1118,"radiusOffset":-1.6,"radius2Offset":1.6},"encoding":{"theta":{"field":"i","type":"quantitative","stack":null,"scale":{"type":"linear","domain":[0,32],"range":[1.570796,6.806784],"zero":false,"nice":false}},"theta2":{"field":"i"},"radius":{"field":"wmode_or","type":"quantitative","stack":null,"scale":{"type":"linear","domain":[0.85,1.15],"range":[41,59],"zero":false,"nice":false,"clamp":true}},"radius2":{"field":"wmode_or"},"color":{"field":"wmode_or","type":"quantitative","scale":{"type":"threshold","domain":[1],"range":["#8e2447","#2f3f94"]},"legend":null}}},

{"data":{"name":"B"},"mark":{"type":"arc","thetaOffset":0.0660,"theta2Offset":0.0756,"radiusOffset":-1.6,"radius2Offset":1.6},"encoding":{"theta":{"field":"i","type":"quantitative","stack":null,"scale":{"type":"linear","domain":[0,37],"range":[1.570796,6.806784],"zero":false,"nice":false}},"theta2":{"field":"i"},"radius":{"field":"ivw_or","type":"quantitative","stack":null,"scale":{"type":"linear","domain":[0.85,1.15],"range":[304,322],"zero":false,"nice":false,"clamp":true}},"radius2":{"field":"ivw_or"},"color":{"field":"ivw_or","type":"quantitative","scale":{"type":"threshold","domain":[1],"range":["#8e2447","#2f3f94"]},"legend":null}}},
{"data":{"name":"B"},"mark":{"type":"arc","thetaOffset":0.0648,"theta2Offset":0.0767,"radiusOffset":-1.6,"radius2Offset":1.6},"encoding":{"theta":{"field":"i","type":"quantitative","stack":null,"scale":{"type":"linear","domain":[0,37],"range":[1.570796,6.806784],"zero":false,"nice":false}},"theta2":{"field":"i"},"radius":{"field":"egger_or","type":"quantitative","stack":null,"scale":{"type":"linear","domain":[0.85,1.15],"range":[244,262],"zero":false,"nice":false,"clamp":true}},"radius2":{"field":"egger_or"},"color":{"field":"egger_or","type":"quantitative","scale":{"type":"threshold","domain":[1],"range":["#8e2447","#2f3f94"]},"legend":null}}},
{"data":{"name":"B"},"mark":{"type":"arc","thetaOffset":0.0630,"theta2Offset":0.0785,"radiusOffset":-1.6,"radius2Offset":1.6},"encoding":{"theta":{"field":"i","type":"quantitative","stack":null,"scale":{"type":"linear","domain":[0,37],"range":[1.570796,6.806784],"zero":false,"nice":false}},"theta2":{"field":"i"},"radius":{"field":"simple_or","type":"quantitative","stack":null,"scale":{"type":"linear","domain":[0.85,1.15],"range":[184,202],"zero":false,"nice":false,"clamp":true}},"radius2":{"field":"simple_or"},"color":{"field":"simple_or","type":"quantitative","scale":{"type":"threshold","domain":[1],"range":["#8e2447","#2f3f94"]},"legend":null}}},
{"data":{"name":"B"},"mark":{"type":"arc","thetaOffset":0.0595,"theta2Offset":0.0821,"radiusOffset":-1.6,"radius2Offset":1.6},"encoding":{"theta":{"field":"i","type":"quantitative","stack":null,"scale":{"type":"linear","domain":[0,37],"range":[1.570796,6.806784],"zero":false,"nice":false}},"theta2":{"field":"i"},"radius":{"field":"wmed_or","type":"quantitative","stack":null,"scale":{"type":"linear","domain":[0.85,1.15],"range":[124,142],"zero":false,"nice":false,"clamp":true}},"radius2":{"field":"wmed_or"},"color":{"field":"wmed_or","type":"quantitative","scale":{"type":"threshold","domain":[1],"range":["#8e2447","#2f3f94"]},"legend":null}}},
{"data":{"name":"B"},"mark":{"type":"arc","thetaOffset":0.0502,"theta2Offset":0.0913,"radiusOffset":-1.6,"radius2Offset":1.6},"encoding":{"theta":{"field":"i","type":"quantitative","stack":null,"scale":{"type":"linear","domain":[0,37],"range":[1.570796,6.806784],"zero":false,"nice":false}},"theta2":{"field":"i"},"radius":{"field":"wmode_or","type":"quantitative","stack":null,"scale":{"type":"linear","domain":[0.85,1.15],"range":[64,82],"zero":false,"nice":false,"clamp":true}},"radius2":{"field":"wmode_or"},"color":{"field":"wmode_or","type":"quantitative","scale":{"type":"threshold","domain":[1],"range":["#8e2447","#2f3f94"]},"legend":null}}},

{"data":{"name":"tracks"},"transform":[{"filter":"datum.panel==='A'"}],"mark":{"type":"arc","filled":false,"stroke":"#000000","strokeWidth":2,"radius2Offset":22},"encoding":{"theta":{"datum":0,"type":"quantitative","scale":{"type":"linear","domain":[0,32],"range":[1.570796,6.806784],"zero":false,"nice":false}},"theta2":{"datum":32},"radius":{"field":"k","type":"quantitative","stack":null,"scale":{"type":"linear","domain":[0,10],"range":[39,339],"zero":false,"nice":false}},"radius2":{"field":"k"}}},
{"data":{"name":"tracks"},"transform":[{"filter":"datum.panel==='B'"}],"mark":{"type":"arc","filled":false,"stroke":"#000000","strokeWidth":2,"radius2Offset":22},"encoding":{"theta":{"datum":0,"type":"quantitative","scale":{"type":"linear","domain":[0,37],"range":[1.570796,6.806784],"zero":false,"nice":false}},"theta2":{"datum":37},"radius":{"field":"k","type":"quantitative","stack":null,"scale":{"type":"linear","domain":[0,10],"range":[62,362],"zero":false,"nice":false}},"radius2":{"field":"k"}}},

{"data":{"name":"tracks"},"transform":[{"filter":"datum.panel==='A'"}],"mark":{"type":"text","align":"left","baseline":"middle","fontSize":16,"angle":30,"radiusOffset":11,"dx":4,"color":"#111111"},"encoding":{"theta":{"datum":32,"type":"quantitative","scale":{"type":"linear","domain":[0,32],"range":[1.570796,6.806784],"zero":false,"nice":false}},"radius":{"field":"k","type":"quantitative","stack":null,"scale":{"type":"linear","domain":[0,10],"range":[39,339],"zero":false,"nice":false}},"text":{"field":"track"}}},
{"data":{"name":"tracks"},"transform":[{"filter":"datum.panel==='B'"}],"mark":{"type":"text","align":"left","baseline":"middle","fontSize":16,"angle":30,"radiusOffset":11,"dx":4,"color":"#111111"},"encoding":{"theta":{"datum":37,"type":"quantitative","scale":{"type":"linear","domain":[0,37],"range":[1.570796,6.806784],"zero":false,"nice":false}},"radius":{"field":"k","type":"quantitative","stack":null,"scale":{"type":"linear","domain":[0,10],"range":[62,362],"zero":false,"nice":false}},"text":{"field":"track"}}},

{"data":{"name":"A"},"transform":[{"filter":"datum.i<=9 || datum.i>=29"}],"mark":{"type":"text","align":"left","baseline":"middle","fontSize":9,"lineBreak":"\n","lineHeight":10.5,"color":"#111111"},"encoding":{"theta":{"field":"i","type":"quantitative","stack":null,"scale":{"type":"linear","domain":[-0.5,31.5],"range":[1.570796,6.806784],"zero":false,"nice":false}},"radius":{"datum":9.9,"type":"quantitative","scale":{"type":"linear","domain":[0,10],"range":[39,339],"zero":false,"nice":false}},"angle":{"field":"i","type":"quantitative","scale":{"type":"linear","domain":[-0.5,31.5],"range":[0,300],"zero":false,"nice":false}},"text":{"field":"t"}}},
{"data":{"name":"A"},"transform":[{"filter":"datum.i>=10 && datum.i<=28"}],"mark":{"type":"text","align":"right","baseline":"middle","fontSize":9,"lineBreak":"\n","lineHeight":10.5,"color":"#111111"},"encoding":{"theta":{"field":"i","type":"quantitative","stack":null,"scale":{"type":"linear","domain":[-0.5,31.5],"range":[1.570796,6.806784],"zero":false,"nice":false}},"radius":{"datum":9.9,"type":"quantitative","scale":{"type":"linear","domain":[0,10],"range":[39,339],"zero":false,"nice":false}},"angle":{"field":"i","type":"quantitative","scale":{"type":"linear","domain":[-0.5,31.5],"range":[180,480],"zero":false,"nice":false}},"text":{"field":"t"}}},
{"data":{"name":"B"},"transform":[{"filter":"datum.i<=10 || datum.i>=33"}],"mark":{"type":"text","align":"left","baseline":"middle","fontSize":9,"lineBreak":"\n","lineHeight":10.5,"color":"#111111"},"encoding":{"theta":{"field":"i","type":"quantitative","stack":null,"scale":{"type":"linear","domain":[-0.5,36.5],"range":[1.570796,6.806784],"zero":false,"nice":false}},"radius":{"datum":9.9,"type":"quantitative","scale":{"type":"linear","domain":[0,10],"range":[62,362],"zero":false,"nice":false}},"angle":{"field":"i","type":"quantitative","scale":{"type":"linear","domain":[-0.5,36.5],"range":[0,300],"zero":false,"nice":false}},"text":{"field":"t"}}},
{"data":{"name":"B"},"transform":[{"filter":"datum.i>=11 && datum.i<=32"}],"mark":{"type":"text","align":"right","baseline":"middle","fontSize":9,"lineBreak":"\n","lineHeight":10.5,"color":"#111111"},"encoding":{"theta":{"field":"i","type":"quantitative","stack":null,"scale":{"type":"linear","domain":[-0.5,36.5],"range":[1.570796,6.806784],"zero":false,"nice":false}},"radius":{"datum":9.9,"type":"quantitative","scale":{"type":"linear","domain":[0,10],"range":[62,362],"zero":false,"nice":false}},"angle":{"field":"i","type":"quantitative","scale":{"type":"linear","domain":[-0.5,36.5],"range":[180,480],"zero":false,"nice":false}},"text":{"field":"t"}}},

{"data":{"name":"panels"},"transform":[{"filter":"datum.panel==='A'"}],"mark":{"type":"text","fontSize":32,"fontWeight":"bold","align":"center","baseline":"middle","dx":-364,"dy":-361,"color":"#000000"},"encoding":{"text":{"field":"panel"}}},
{"data":{"name":"panels"},"transform":[{"filter":"datum.panel==='B'"}],"mark":{"type":"text","fontSize":32,"fontWeight":"bold","align":"center","baseline":"middle","dx":-386,"dy":-361,"color":"#000000"},"encoding":{"text":{"field":"panel"}}}
],
"resolve":{"scale":{"theta":"independent","radius":"independent","color":"independent","angle":"independent"}}
}
